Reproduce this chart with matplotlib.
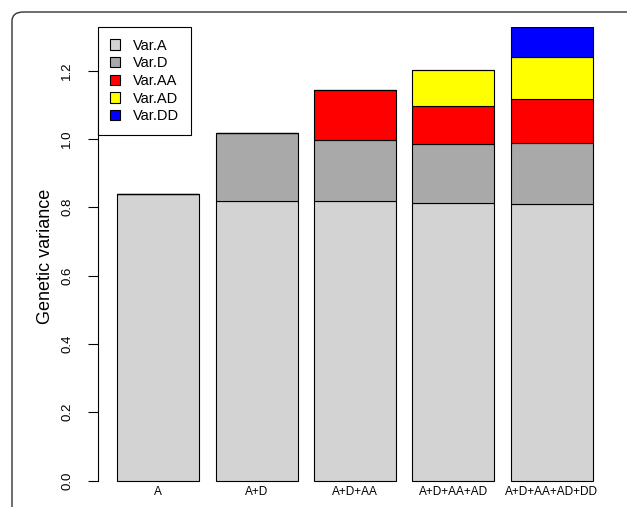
import numpy as np
import matplotlib.pyplot as plt
from matplotlib.patches import FancyBboxPatch, Patch

plt.rcParams['font.family'] = ['Liberation Sans', 'DejaVu Sans']

models = ["A", "A+D", "A+D+AA", "A+D+AA+AD", "A+D+AA+AD+DD"]
var_a = [0.839, 0.8185, 0.8177, 0.8118, 0.8088]
var_d = [0.0, 0.1995, 0.1793, 0.1735, 0.1786]
var_aa = [0.0, 0.0, 0.1456, 0.1113, 0.1288]
var_ad = [0.0, 0.0, 0.0, 0.1054, 0.1230]
var_dd = [0.0, 0.0, 0.0, 0.0, 0.0885]

components = ["Var.A", "Var.D", "Var.AA", "Var.AD", "Var.DD"]
colors = ["#d3d3d3", "#a9a9a9", "#ff0000", "#ffff00", "#0000ff"]

fig = plt.figure(figsize=(6.27, 5.07), dpi=100)

# rounded panel frame, runs off the right and bottom edges
frame = FancyBboxPatch((12 / 627, -0.2), 1.2, 1.2 - 12 / 507,
                       boxstyle="round,pad=0,rounding_size=0.018",
                       transform=fig.transFigure, fill=False,
                       edgecolor="#333333", linewidth=1.0)
fig.patches.append(frame)

ax = fig.add_axes([98.3 / 627, (507 - 485.1) / 507, (611.7 - 98.3) / 627, (485.1 - 27) / 507])

x = np.arange(len(models)) * 1.2 + 0.7
bottom = np.zeros(len(models))
for vals, col in zip([var_a, var_d, var_aa, var_ad, var_dd], colors):
    vals = np.array(vals)
    ax.bar(x, vals, width=1.0, bottom=bottom, color=col,
           edgecolor="black", linewidth=0.8)
    bottom += vals

ax.set_xlim(-0.032, 6.232)
ax.set_ylim(-0.0133, 1.3277)

for s in ["top", "right", "bottom"]:
    ax.spines[s].set_visible(False)
ax.spines["left"].set_bounds(0, 1.2)
ax.spines["left"].set_linewidth(0.8)

ax.set_yticks(np.arange(0, 1.21, 0.2))
ax.set_yticklabels(["%.1f" % v for v in np.arange(0, 1.21, 0.2)],
                   rotation=90, va="center", fontsize=9.5)
ax.tick_params(axis="y", length=7, width=0.8, pad=11)
ax.set_xticks(x)
ax.set_xticklabels(models, fontsize=8.5)
ax.tick_params(axis="x", length=0, pad=0.5)

ax.set_ylabel("Genetic variance", fontsize=13, labelpad=5)

handles = [Patch(facecolor=c, edgecolor="black", linewidth=0.8) for c in colors]
leg = ax.legend(handles, components, loc="upper left", bbox_to_anchor=(0, 1),
                borderaxespad=0, fancybox=False, edgecolor="black", framealpha=1,
                fontsize=10.5, handlelength=0.7, handleheight=0.7, labelspacing=0.25,
                handletextpad=0.9, borderpad=0.8)
leg.get_frame().set_linewidth(0.8)

fig.savefig("out.png", dpi=100)
